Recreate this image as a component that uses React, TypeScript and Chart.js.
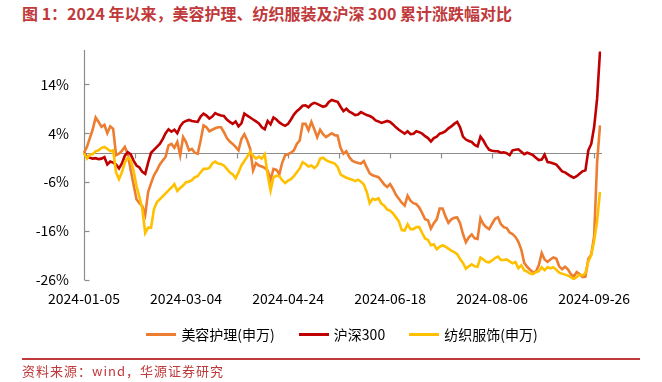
import React, { useEffect, useRef } from 'react';
import { Chart, registerables } from 'chart.js';

Chart.register(...registerables);

// Trading days (day of month) per month, 2024
const JAN = [5, 8, 9, 10, 11, 12, 15, 16, 17, 18, 19, 22, 23, 24, 25, 26, 29, 30, 31];
const FEB = [1, 2, 5, 6, 7, 8, 19, 20, 21, 22, 23, 26, 27, 28, 29];
const MAR = [1, 4, 5, 6, 7, 8, 11, 12, 13, 14, 15, 18, 19, 20, 21, 22, 25, 26, 27, 28, 29];
const APR = [1, 2, 3, 8, 9, 10, 11, 12, 15, 16, 17, 18, 19, 22, 23, 24, 25, 26, 29, 30];
const MAY = [6, 7, 8, 9, 10, 13, 14, 15, 16, 17, 20, 21, 22, 23, 24, 27, 28, 29, 30, 31];
const JUN = [3, 4, 5, 6, 7, 11, 12, 13, 14, 17, 18, 19, 20, 21, 24, 25, 26, 27, 28];
const JUL = [1, 2, 3, 4, 5, 8, 9, 10, 11, 12, 15, 16, 17, 18, 19, 22, 23, 24, 25, 26, 29, 30, 31];
const AUG = [1, 2, 5, 6, 7, 8, 9, 12, 13, 14, 15, 16, 19, 20, 21, 22, 23, 26, 27, 28, 29, 30];
const SEP = [2, 3, 4, 5, 6, 9, 10, 11, 12, 13, 18, 19, 20, 23, 24, 25, 26, 27, 30];
const MONTHS: [string, number[]][] = [
  ['01', JAN], ['02', FEB], ['03', MAR], ['04', APR], ['05', MAY],
  ['06', JUN], ['07', JUL], ['08', AUG], ['09', SEP],
];
const categories: string[] = [];
MONTHS.forEach(([m, days]) => days.forEach((d) => categories.push(`2024-${m}-${String(d).padStart(2, '0')}`)));

// 美容护理(申万) cumulative change, %
const beauty = [
  0, 1.2, 3.0, 4.8, 7.2, 6.3, 5.3, 5.7, 4.0, 5.4,
  4.9, -0.5, -0.2, 0.4, 1.2, -0.2, -3.5, -6.5, -9.5, -10.3,
  -10.9, -12.7, -8.0, -6.2, -4.6, -3.6, -2.4, -1.6, -0.8, 1.5,
  1.8, 1.0, 2.2, -0.5, 3.2, 2.2, 0.5, 0.8, 0.0, -0.2,
  2.5, 5.6, 5.2, 4.4, 4.7, 5.0, 5.2, 5.2, 4.2, 3.0,
  2.3, 1.8, 1.2, 0.5, 2.8, 3.8, 2.5, 0.8, -3.6, -2.1,
  -2.6, -2.8, -3.1, -3.6, -5.5, -3.3, -3.5, -4.4, -2.0, -0.5,
  -0.3, 0.0, 0.5, 1.8, 2.5, 5.9, 5.9, 4.6, 6.3, 4.8,
  3.2, 4.7, 3.8, 3.2, 3.6, 4.0, 3.6, 3.5, 1.0, -0.2,
  0.3, -0.9, -1.6, -1.9, -2.1, -2.2, -1.7, -3.0, -4.2, -4.6,
  -4.8, -5.0, -5.7, -6.5, -7.0, -6.4, -7.4, -8.6, -9.4, -10.2,
  -10.8, -8.8, -9.8, -10.3, -10.5, -11.2, -12.3, -13.6, -13.8, -15.5,
  -14.4, -13.6, -11.4, -11.4, -13.0, -14.3, -13.6, -13.3, -13.2, -14.4,
  -16.6, -18.3, -17.3, -16.7, -17.5, -17.6, -13.4, -14.6, -15.2, -15.6,
  -14.5, -13.5, -13.2, -14.6, -15.2, -15.4, -16.3, -16.6, -17.2, -18.2,
  -19.8, -22.5, -23.3, -23.9, -24.4, -24.3, -23.0, -20.5, -21.8, -22.3,
  -21.8, -21.4, -21.6, -23.2, -23.8, -23.3, -23.8, -24.8, -25.3, -24.4,
  -24.8, -25.4, -25.3, -21.7, -20.8, -17.0, -2.0, 5.6,
];

// 沪深300 cumulative change, %
const csi300 = [
  0, -0.8, -1.0, -1.2, -1.1, -1.3, -1.2, -0.9, -2.4, -1.8,
  -2.0, -2.4, -3.2, -2.2, -0.6, 0.1, -0.3, -1.6, -2.6, -3.0,
  -3.9, -4.3, -2.0, 0.0, 0.6, 1.2, 1.8, 2.8, 4.0, 4.8,
  4.3, 4.7, 4.0, 5.4, 6.2, 6.5, 6.7, 6.5, 6.4, 6.3,
  7.4, 8.0, 7.6, 7.0, 7.4, 8.1, 7.8, 7.6, 7.5, 6.8,
  6.3, 5.9, 6.4, 5.4, 6.0, 8.0, 7.6, 7.2, 6.8, 6.4,
  6.0, 5.2, 4.8, 6.5, 5.8, 7.2, 6.8, 6.2, 5.8, 5.5,
  5.9, 6.8, 7.8, 8.5, 9.0, 9.6, 9.7, 9.3, 9.9, 10.2,
  10.0, 9.7, 9.4, 9.6, 10.4, 10.8, 10.6, 10.4, 9.4, 8.5,
  9.0, 8.4, 8.1, 7.7, 7.8, 8.3, 8.0, 7.7, 7.5, 7.2,
  6.6, 6.4, 6.1, 6.3, 6.5, 6.3, 5.8, 5.2, 4.7, 4.3,
  3.9, 4.4, 3.8, 3.9, 4.4, 4.2, 3.9, 3.4, 3.0, 2.3,
  3.0, 3.3, 3.9, 4.1, 4.4, 5.0, 5.4, 5.9, 6.3, 5.2,
  3.3, 2.7, 2.4, 2.2, 1.6, 1.3, 3.3, 2.5, 1.4, 0.6,
  0.4, 0.3, 0.3, 0.0, 0.1, -0.1, -0.5, 0.5, 0.6, 0.7,
  0.2, -0.3, 0.0, -0.2, -0.5, -1.0, -1.5, -1.4, -0.4, -1.9,
  -2.0, -2.2, -2.4, -3.1, -3.8, -4.0, -4.4, -4.8, -5.1, -4.8,
  -4.3, -3.8, -3.6, 0.5, 1.8, 5.3, 11.0, 20.7,
];

// 纺织服饰(申万) cumulative change, %
const textile = [
  0, -1.2, -0.4, -0.3, 0.3, 0.5, 1.0, 1.2, 0.8, 0.3,
  0.5, -4.0, -5.4, -4.0, -2.0, -1.0, -1.5, -3.6, -6.8, -9.0,
  -11.5, -16.4, -15.3, -15.3, -11.5, -10.1, -9.5, -8.9, -8.3, -7.7,
  -7.1, -6.4, -7.8, -7.2, -6.7, -6.0, -5.9, -5.6, -5.0, -4.8,
  -4.0, -3.3, -3.3, -3.1, -2.2, -1.8, -2.2, -2.3, -2.6, -3.3,
  -4.0, -4.4, -5.2, -4.0, -2.6, -1.7, -0.8, 0.2, -0.6, -1.2,
  -0.8, -1.2, -0.3, -4.5, -7.7, -5.0, -4.7, -4.8, -5.6, -6.2,
  -5.7, -5.4, -4.8, -4.0, -3.2, -1.9, -2.3, -2.8, -2.6, -3.1,
  -2.6, -1.2, -1.0, -1.5, -1.8, -2.0, -2.2, -2.9, -4.4, -4.8,
  -5.1, -5.3, -5.5, -5.8, -5.5, -5.9, -6.5, -8.0, -10.3, -9.4,
  -9.6, -9.3, -10.4, -10.8, -11.6, -11.8, -12.4, -13.2, -14.0, -15.8,
  -15.9, -14.6, -15.6, -15.6, -15.2, -15.2, -16.4, -17.5, -17.8, -18.9,
  -18.7, -19.7, -19.2, -18.9, -19.2, -19.6, -20.0, -20.3, -20.7, -21.7,
  -22.5, -23.7, -23.2, -22.8, -23.2, -23.3, -21.4, -21.8, -22.3, -22.4,
  -22.0, -21.5, -21.2, -21.9, -21.9, -21.8, -22.2, -22.6, -22.3, -23.6,
  -23.0, -24.0, -24.3, -24.7, -24.8, -24.4, -24.2, -23.4, -24.0, -23.4,
  -23.6, -23.4, -23.9, -24.5, -24.7, -24.9, -25.1, -25.4, -25.8, -25.4,
  -24.9, -25.1, -24.6, -22.2, -20.9, -18.0, -14.0, -8.0,
];

const SERIES_NAMES = ['美容护理(申万)', '沪深300', '纺织服饰(申万)'];
const SERIES_COLORS = ['#ED7D31', '#C00000', '#FFC000'];
const Y_TICKS = [-26, -16, -6, 4, 14];
const Y_MIN = -26;
const Y_MAX = 21;
const LABEL_EVERY = 35;
const TICK_EVERY = 17.5;

const FONT = '"Noto Sans CJK SC", "Noto Sans", sans-serif';
const AXIS_COLOR = '#8C8C8C';

const axesPlugin = {
  id: 'customAxes',
  beforeDatasetsDraw(chart: any) {
    const { ctx, chartArea, scales } = chart;
    const xs = scales.x;
    const ys = scales.y;
    ctx.save();
    ctx.strokeStyle = AXIS_COLOR;
    ctx.lineWidth = 1.2;
    // y axis line
    const ax = Math.round(chartArea.left) + 0.5;
    ctx.beginPath();
    ctx.moveTo(ax, chartArea.top);
    ctx.lineTo(ax, chartArea.bottom);
    ctx.stroke();
    // y tick marks (inward)
    Y_TICKS.forEach((v) => {
      const py = Math.round(ys.getPixelForValue(v)) + 0.5;
      ctx.beginPath();
      ctx.moveTo(ax, py);
      ctx.lineTo(ax + 5, py);
      ctx.stroke();
    });
    // zero line (category axis crossing at 0)
    const zy = Math.round(ys.getPixelForValue(0)) + 0.5;
    ctx.beginPath();
    ctx.moveTo(chartArea.left, zy);
    ctx.lineTo(chartArea.right + 2, zy);
    ctx.stroke();
    for (let k = 1; k * TICK_EVERY <= categories.length - 1; k++) {
      const px = Math.round(xs.getPixelForValue(k * TICK_EVERY)) + 0.5;
      ctx.beginPath();
      ctx.moveTo(px, zy);
      ctx.lineTo(px, zy + 5);
      ctx.stroke();
    }
    ctx.restore();
  },
};

export default function App() {
  const canvasRef = useRef<HTMLCanvasElement | null>(null);

  useEffect(() => {
    if (!canvasRef.current) return;
    const seriesData = [beauty, csi300, textile];
    const chart = new Chart(canvasRef.current, {
      type: 'line',
      data: {
        labels: categories,
        datasets: seriesData.map((d, i) => ({
          label: SERIES_NAMES[i],
          data: d,
          borderColor: SERIES_COLORS[i],
          backgroundColor: SERIES_COLORS[i],
          borderWidth: 2.6,
          pointRadius: 0,
          tension: 0,
          fill: false,
          order: 2 - i,
        })),
      },
      options: {
        animation: false,
        responsive: false,
        layout: { padding: { top: 50, right: 62, left: 0, bottom: 62 } },
        plugins: {
          legend: { display: false },
          tooltip: { enabled: false },
          title: { display: false },
        },
        scales: {
          x: {
            type: 'category',
            offset: false,
            grid: { display: false, drawTicks: false },
            border: { display: false },
            ticks: {
              autoSkip: false,
              maxRotation: 0,
              minRotation: 0,
              padding: 10,
              color: '#000',
              font: { family: FONT, size: 14 },
              callback: (_v: any, i: number) => (i % LABEL_EVERY === 0 ? categories[i] : ''),
            },
            afterFit: (s: any) => {
              s.height = 40;
            },
          },
          y: {
            min: Y_MIN,
            max: Y_MAX,
            grid: { display: false, drawTicks: false },
            border: { display: false },
            ticks: {
              padding: 15,
              color: '#000',
              font: { family: FONT, size: 14 },
              callback: (v: any) => `${v}%`,
            },
            afterBuildTicks: (s: any) => {
              s.ticks = Y_TICKS.map((v) => ({ value: v }));
            },
            afterFit: (s: any) => {
              s.width = 84;
            },
          },
        },
      },
      plugins: [axesPlugin],
    });
    return () => chart.destroy();
  }, []);

  const legendItems = SERIES_NAMES.map((n, i) => (
    <div key={n} style={{ display: 'flex', alignItems: 'center', marginRight: i < 2 ? 24 : 0 }}>
      <div style={{ width: 30, height: 3, background: SERIES_COLORS[i], marginRight: 5 }} />
      <span>{n}</span>
    </div>
  ));

  return (
    <div style={{ position: 'absolute', left: 0, top: 0, width: 662, height: 382, background: '#fff', overflow: 'hidden', fontFamily: FONT }}>
      <div style={{ position: 'absolute', left: 22, top: 3, fontSize: 16, fontWeight: 'bold', color: '#C0393B', whiteSpace: 'nowrap', lineHeight: '20px' }}>
        图 1：2024 年以来，美容护理、纺织服装及沪深 300 累计涨跌幅对比
      </div>
      <canvas ref={canvasRef} width={662} height={382} style={{ position: 'absolute', left: 0, top: 0 }} />
      <div style={{ position: 'absolute', left: 84, width: 516, top: 324, height: 20, display: 'flex', justifyContent: 'center', alignItems: 'center', fontSize: 14, color: '#000', whiteSpace: 'nowrap' }}>
        {legendItems}
      </div>
      <div style={{ position: 'absolute', left: 22, top: 358, width: 618, height: 2, background: '#C0393B' }} />
      <div style={{ position: 'absolute', left: 22, top: 363, fontSize: 13, color: '#C0393B', whiteSpace: 'nowrap', lineHeight: '16px', letterSpacing: 1 }}>
        资料来源：wind，华源证券研究
      </div>
    </div>
  );
}
